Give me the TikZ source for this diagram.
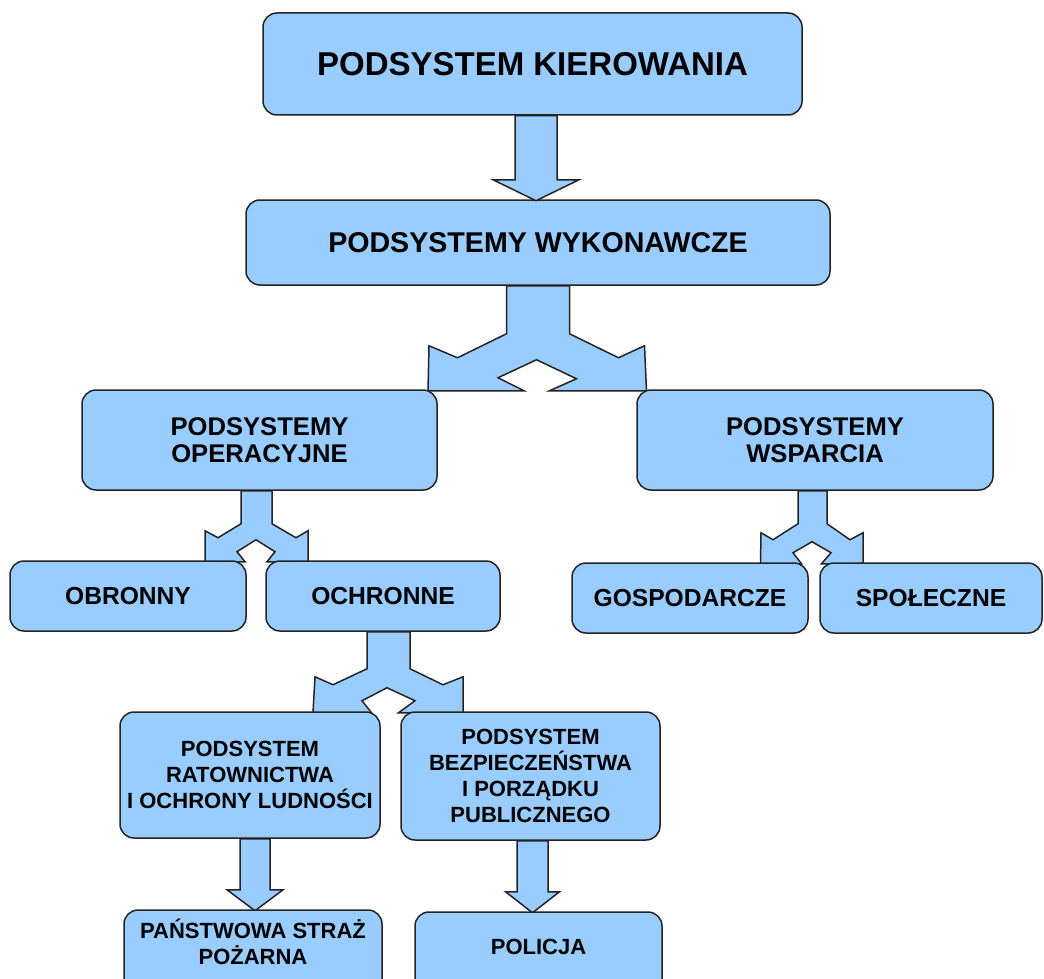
\documentclass[tikz,border=0pt]{standalone}
\usepackage{fontspec}
\setmainfont{Liberation Sans}
\usepackage{tikz}
\usetikzlibrary{calc}
\definecolor{BoxBlue}{RGB}{153,204,255}
\definecolor{EdgeGray}{RGB}{35,35,35}

\begin{document}
\begin{tikzpicture}[x=0.5pt,y=-0.5pt, every node/.style={align=center},
    box/.style={draw=EdgeGray,line width=0.75pt,fill=BoxBlue,rounded corners=7pt,inner sep=0pt},
    blockarrow/.style={draw=EdgeGray,line width=0.75pt,fill=BoxBlue,line join=miter},
    lvlA/.style={font=\bfseries\fontsize{16.5}{19}\selectfont},
    lvlB/.style={font=\bfseries\fontsize{14.3}{17}\selectfont},
    lvlC/.style={font=\bfseries\fontsize{12.8}{13.5}\selectfont},
    lvlD/.style={font=\bfseries\fontsize{12.3}{14}\selectfont},
    lvlE/.style={font=\bfseries\fontsize{11}{13}\selectfont}]
        \useasboundingbox (0,0) rectangle (1044,979);

        % Top levels
        \node[box,lvlA,minimum width=269.5pt,minimum height=51pt] (kier) at (532.5,64) {PODSYSTEM KIEROWANIA};
        \node[box,lvlB,minimum width=292pt,minimum height=42.5pt] (wyk) at (538,242.5) {PODSYSTEMY WYKONAWCZE};

        % Arrows (drawn under the boxes)
        \draw[blockarrow, shift={($(kier.south)+(3.5,0)$)}]
          (-21,0) -- (-21,64) -- (-43,64) -- (0,85) -- (43,64) -- (21,64) -- (21,0) -- cycle;
        \draw[blockarrow, shift={(wyk.south)}]
          (-31.5,0) -- (-31.5,48) -- (-80.5,72) -- (-109,60) -- (-110,105) -- (-14,105) -- (-40,92)
          -- (-1.5,74) -- (38.5,93) -- (11.5,105) -- (108.5,105) -- (106.5,60) -- (80.5,72) -- (31.5,48) -- (31.5,0) -- cycle;

        % Second level
        \node[box,lvlC,minimum width=177.5pt,minimum height=50pt] (oper) at (259.5,440) {PODSYSTEMY\\OPERACYJNE};
        \node[box,lvlC,minimum width=178pt,minimum height=50pt] (wsp) at (815,440) {PODSYSTEMY\\WSPARCIA};

        \draw[blockarrow, shift={($(oper.south)+(-3,0)$)}]
          (-15.5,0) -- (-15.5,33) -- (-38.5,47) -- (-51.5,40) -- (-51.5,71) -- (-11.5,71) -- (-19.5,61)
          -- (-0.5,49) -- (18.5,61) -- (10.5,71) -- (51.5,71) -- (51.5,40) -- (39.5,47) -- (15.5,33) -- (15.5,0) -- cycle;
        \draw[blockarrow, shift={($(wsp.south)+(-2.5,0)$)}]
          (-14.5,0) -- (-14.5,33) -- (-39.5,49) -- (-51.5,42) -- (-52,73) -- (-11,73) -- (-19.5,62)
          -- (-0.5,51) -- (18.5,62) -- (9,73) -- (50.5,73) -- (50.5,42) -- (37.5,49) -- (14.5,33) -- (14.5,0) -- cycle;

        % Third level
        \node[box,lvlD,minimum width=118pt,minimum height=35pt] (obr) at (128,596) {OBRONNY};
        \node[box,lvlD,minimum width=117pt,minimum height=35pt] (ochr) at (383,596) {OCHRONNE};
        \node[box,lvlD,minimum width=118pt,minimum height=35pt] (gosp) at (690,598) {GOSPODARCZE};
        \node[box,lvlD,minimum width=111pt,minimum height=35pt] (spol) at (931,598) {SPOŁECZNE};

        \draw[blockarrow, shift={($(ochr.south)+(5.5,0)$)}]
          (-21.5,0) -- (-21.5,37) -- (-55.5,53) -- (-73.5,45) -- (-75.5,81) -- (-17,81) -- (-26.5,69)
          -- (-1.5,56) -- (26.5,69) -- (10,81) -- (74.5,81) -- (74.5,45) -- (54.5,53) -- (21.5,37) -- (21.5,0) -- cycle;

        % Fourth level
        \node[box,lvlE,minimum width=130pt,minimum height=63pt] (ratow) at (250,775)
          {PODSYSTEM\\RATOWNICTWA\\I OCHRONY LUDNOŚCI};
        \node[box,lvlE,minimum width=129.5pt,minimum height=64pt] (bezp) at (530.5,776)
          {PODSYSTEM\\BEZPIECZEŃSTWA\\I PORZĄDKU\\PUBLICZNEGO};

        \draw[blockarrow, shift={($(ratow.south)+(5,0)$)}]
          (-15,0) -- (-15,51) -- (-28,51) -- (0,72) -- (28,51) -- (15,51) -- (15,0) -- cycle;
        \draw[blockarrow, shift={($(bezp.south)+(2,0)$)}]
          (-15.5,0) -- (-15.5,51) -- (-27,51) -- (0,72) -- (27,51) -- (15.5,51) -- (15.5,0) -- cycle;

        % Bottom boxes (cut by the page edge)
        \node[box,minimum width=129pt,minimum height=44pt] (psp) at (253,954) {};
        \node[lvlE] (psp-txt) at ($(psp.north)+(0,33)$) {PAŃSTWOWA STRAŻ\\POŻARNA};
        \node[box,minimum width=123.5pt,minimum height=43pt] (pol) at (538.5,955) {};
        \node[lvlE] (pol-txt) at ($(pol.north)+(0,36)$) {POLICJA};
      \end{tikzpicture}
\end{document}
